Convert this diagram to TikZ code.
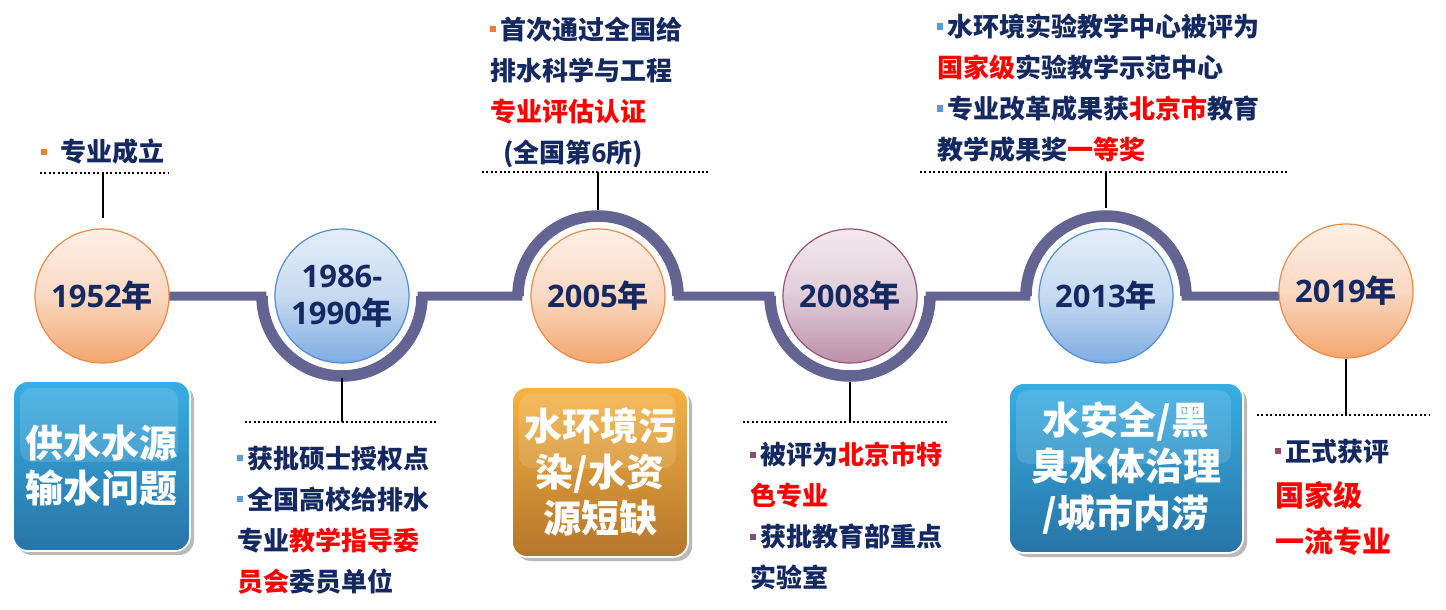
\documentclass[tikz,border=0pt]{standalone}
\usepackage{fontspec}
\setmainfont{Noto Sans CJK SC}
\newfontfamily\numf{Open Sans}
\usetikzlibrary{shadows}
\definecolor{navy}{RGB}{20,40,98}
\definecolor{trackc}{RGB}{100,100,146}
\definecolor{bulor}{RGB}{237,125,49}
\definecolor{bulbl}{RGB}{91,155,213}
\definecolor{bulpu}{RGB}{142,74,110}
\definecolor{orTop}{RGB}{253,240,230}
\definecolor{orMid}{RGB}{250,216,194}
\definecolor{orBot}{RGB}{244,166,108}
\definecolor{orRim}{RGB}{236,138,72}
\definecolor{blTop}{RGB}{228,238,249}
\definecolor{blMid}{RGB}{198,218,241}
\definecolor{blBot}{RGB}{126,172,225}
\definecolor{blRim}{RGB}{82,140,210}
\definecolor{puTop}{RGB}{242,233,238}
\definecolor{puMid}{RGB}{224,204,216}
\definecolor{puBot}{RGB}{188,144,168}
\definecolor{puRim}{RGB}{150,85,120}
\definecolor{bxBlTop}{RGB}{56,174,228}
\definecolor{bxBlBot}{RGB}{40,116,166}
\definecolor{bxOrTop}{RGB}{246,178,68}
\definecolor{bxOrBot}{RGB}{180,118,42}
\newcommand\bul[1]{{\color{#1}\rule[0.26em]{0.24em}{0.24em}}\hspace{0.14em}}
\begin{document}
\begin{tikzpicture}[x=1pt,y=1pt,
  ball/.style={circle, minimum size=134pt, inner sep=0pt, align=center, text=navy,
    font=\bfseries\fontsize{31}{37}\selectfont, line width=1.2pt},
  ballor/.style={ball, top color=orTop, bottom color=orBot, middle color=orMid, draw=orRim},
  ballbl/.style={ball, top color=blTop, bottom color=blBot, middle color=blMid, draw=blRim},
  ballpu/.style={ball, top color=puTop, bottom color=puBot, middle color=puMid, draw=puRim},
  track/.style={draw=trackc, line width=9pt},
  trackarc/.style={draw=trackc, line width=11.5pt},
  dotline/.style={draw=black, line width=2pt, dash pattern=on 2pt off 2.4pt},
  stem/.style={draw=black, line width=2.5pt},
  txt/.style={anchor=west, align=left, inner sep=0pt, text=navy,
    font=\bfseries\fontsize{26}{41}\selectfont},
  gloss/.style={path picture={\fill[white,opacity=0.13,rounded corners=12pt]
    ([shift={(7pt,-7pt)}]path picture bounding box.north west) rectangle
    ([shift={(-12pt,4pt)}]path picture bounding box.east);}},
  pbox/.style={rectangle, rounded corners=15pt, draw=white, line width=1.8pt,
    align=center, text=white, inner sep=0pt,
    drop shadow={shadow xshift=4pt, shadow yshift=-4pt, fill=black!50, opacity=0.55},
    gloss},
  pboxbl/.style={pbox, top color=bxBlTop, bottom color=bxBlBot},
  pboxor/.style={pbox, top color=bxOrTop, bottom color=bxOrBot}
]
\useasboundingbox[fill=white] (0,0) rectangle (1446,-610);

% track
\draw[track] (102,-296) -- (262,-296)
  arc[start angle=180, end angle=360, radius=80] -- (518,-296)
  arc[start angle=180, end angle=0, radius=80] -- (770,-296)
  arc[start angle=180, end angle=360, radius=80] -- (1026,-296)
  arc[start angle=180, end angle=0, radius=80] -- (1346,-296);
\draw[trackarc] (262,-300) -- (262,-296) arc[start angle=180, end angle=360, radius=80] -- (422,-300);
\draw[trackarc] (518,-292) -- (518,-296) arc[start angle=180, end angle=0, radius=80] -- (678,-292);
\draw[trackarc] (770,-300) -- (770,-296) arc[start angle=180, end angle=360, radius=80] -- (930,-300);
\draw[trackarc] (1026,-292) -- (1026,-296) arc[start angle=180, end angle=0, radius=80] -- (1186,-292);

% year circles
\node[ballor] (y1952) at (102,-296) {{\numf 1952}年};
\node[ballbl] (y1986) at (342,-296) {{\numf 1986-}\\{\numf 1990}年};
\node[ballor] (y2005) at (598,-296) {{\numf 2005}年};
\node[ballpu] (y2008) at (850,-296) {{\numf 2008}年};
\node[ballbl] (y2013) at (1106,-296) {{\numf 2013}年};
\node[ballor] (y2019) at (1346,-291) {{\numf 2019}年};

% stem ends
\coordinate (s1952) at (103,-218);
\coordinate (a2005) at (598,-210);
\coordinate (a2013) at (1106,-208);
\coordinate (a1986) at (342,-378);
\coordinate (a2008) at (850,-382);
\coordinate (d1952) at (103,-173);
\coordinate (d2005) at (598,-172);
\coordinate (d2013) at (1106,-172);
\coordinate (d1986) at (342,-422);
\coordinate (d2008) at (850,-422);
\coordinate (d2019) at (1346,-415);

% dotted lines
\coordinate (l1952a) at (40,-173);   \coordinate (l1952b) at (168,-173);
\coordinate (l2005a) at (482,-172);  \coordinate (l2005b) at (708,-172);
\coordinate (l2013a) at (920,-172);  \coordinate (l2013b) at (1287,-172);
\coordinate (l1986a) at (245,-422);  \coordinate (l1986b) at (438,-422);
\coordinate (l2008a) at (743,-422);  \coordinate (l2008b) at (948,-422);
\coordinate (l2019a) at (1257,-415); \coordinate (l2019b) at (1430,-415);
\draw[dotline] (l1952a) -- (l1952b);
\draw[dotline] (l2005a) -- (l2005b);
\draw[dotline] (l2013a) -- (l2013b);
\draw[dotline] (l1986a) -- (l1986b);
\draw[dotline] (l2008a) -- (l2008b);
\draw[dotline] (l2019a) -- (l2019b);

% stems
\draw[stem] (d1952) -- (s1952);
\draw[stem] (d2005) -- (a2005);
\draw[stem] (d2013) -- (a2013);
\draw[stem] (a1986) -- (d1986);
\draw[stem] (a2008) -- (d2008);
\draw[stem] (y2019.south) -- (d2019);

% top texts
\node[txt] (t1952) at (41,-152) {\bul{bulor}\hspace{0.35em}专业成立};
\node[txt] (t2005) at (490,-92) {\bul{bulor}首次通过全国给\\
排水科学与工程\\
\textcolor{red}{专业评估认证}\\
\hspace{0.5em}(全国第{\numf 6}所)};
\node[txt] (t2013) at (937,-88) {\bul{bulbl}水环境实验教学中心被评为\\
\textcolor{red}{国家级}实验教学示范中心\\
\bul{bulbl}专业改革成果获\textcolor{red}{北京市}教育\\
教学成果奖\textcolor{red}{一等奖}};

% bottom texts
\node[txt] (t1986) at (237,-520) {\bul{bulbl}获批硕士授权点\\
\bul{bulbl}全国高校给排水\\
专业\textcolor{red}{教学指导委}\\
\textcolor{red}{员会}委员单位};
\node[txt] (t2008) at (750,-516) {\bul{bulpu}被评为\textcolor{red}{北京市特}\\
\textcolor{red}{色专业}\\
\bul{bulpu}获批教育部重点\\
实验室};
\node[txt, font=\bfseries\fontsize{26}{45.5}\selectfont] (t2019) at (1275,-497) {\bul{bulpu}正式获评\\
{\fontsize{29}{45.5}\selectfont\textcolor{red}{国家级}}\\
{\fontsize{29}{45.5}\selectfont\textcolor{red}{一流专业}}};

% problem boxes
\node[pboxbl, minimum width=177pt, minimum height=170pt,
  font=\bfseries\fontsize{38}{45}\selectfont] (p1952) at (101.5,-466) {供水水源\\输水问题};
\node[pboxor, minimum width=176pt, minimum height=170pt,
  font=\bfseries\fontsize{38}{46}\selectfont] (p2005) at (600,-472) {水环境污\\染/水资\\源短缺};
\node[pboxbl, minimum width=234pt, minimum height=170pt,
  font=\bfseries\fontsize{38}{46.5}\selectfont] (p2013) at (1126,-468) {水安全/黑\\臭水体治理\\/城市内涝};
\end{tikzpicture}
\end{document}
